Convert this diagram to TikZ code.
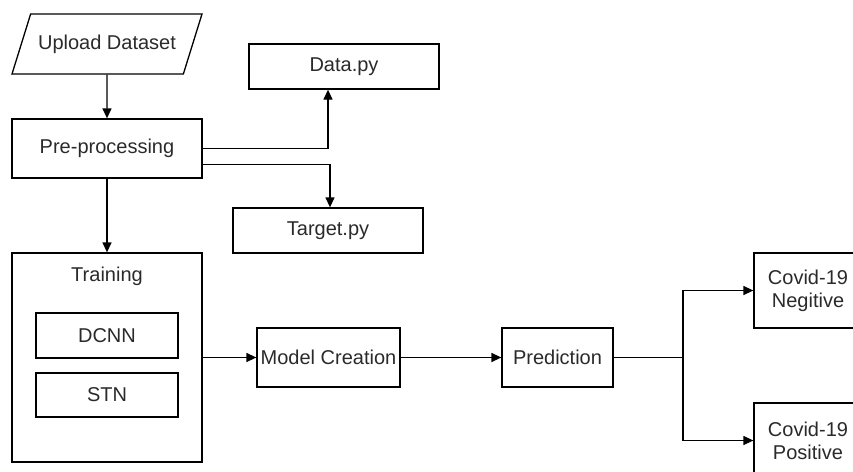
\documentclass[tikz,border=0pt]{standalone}
\usepackage{fontspec}
\setmainfont{Liberation Sans}
\usetikzlibrary{shapes.geometric,arrows.meta}

\definecolor{textgray}{HTML}{2A2A2A}

\begin{document}
\begin{tikzpicture}[x=1pt,y=-1pt,->,>={Triangle[length=10pt,width=9pt]},line width=1.3pt,
    font=\fontsize{20}{23}\selectfont]
    \tikzstyle{box}=[rectangle,draw=black,text=textgray,inner sep=0pt,align=center]
    \tikzstyle{io}=[trapezium,trapezium left angle=45,trapezium right angle=135,
        trapezium stretches body=true,draw=black,text=textgray,inner sep=0pt,
        minimum width=190pt,minimum height=60pt]
    \tikzstyle{annot}=[text=textgray]

    \useasboundingbox (0,0) rectangle (853,471);
    \clip (0,0) rectangle (853,471);

    % Draw the input and the pre-processing step
    \node[io] (upload) at (107,44) {Upload Dataset};
    \node[box,minimum width=190pt,minimum height=59pt] (pre) at (107,148.5) {Pre-processing};

    % Draw the two files
    \node[box,minimum width=190pt,minimum height=45pt] (data) at (344,66.5) {Data.py};
    \node[box,minimum width=190pt,minimum height=45pt] (target) at (328,230.5) {Target.py};

    % Draw the training block with its two models
    \node[box,minimum width=190pt,minimum height=209pt] (train) at (107,357.5) {};
    \node[annot] (trainlbl) at (107,276) {Training};
    \node[box,minimum width=142pt,minimum height=45pt] (dcnn) at (107,335.5) {DCNN};
    \node[box,minimum width=142pt,minimum height=44pt] (stn) at (107,395) {STN};

    % Draw the model, the prediction and the two results
    \node[box,minimum width=143pt,minimum height=59pt] (model) at (328.5,357.5) {Model Creation};
    \node[box,minimum width=111pt,minimum height=59pt] (pred) at (557.5,357.5) {Prediction};
    \node[box,minimum width=108pt,minimum height=75pt] (neg) at (808,290.5) {Covid-19\\Negitive};
    \node[box,minimum width=108pt,minimum height=75pt] (pos) at (808,440.5) {Covid-19\\Positive};
    \coordinate (split) at (683,357.5);

    % Connect the steps
    \draw (upload) -- (pre);
    \draw (pre.east) -| ([xshift=-16pt]data.south);
    \draw ([yshift=-16pt]pre.east) -| ([xshift=2pt]target.north);
    \draw (pre) -- (train);
    \draw (train) -- (model);
    \draw (model) -- (pred);
    \draw[-] (pred) -- (split);
    \draw (split) |- (neg.west);
    \draw (split) |- (pos.west);
\end{tikzpicture}
\end{document}
